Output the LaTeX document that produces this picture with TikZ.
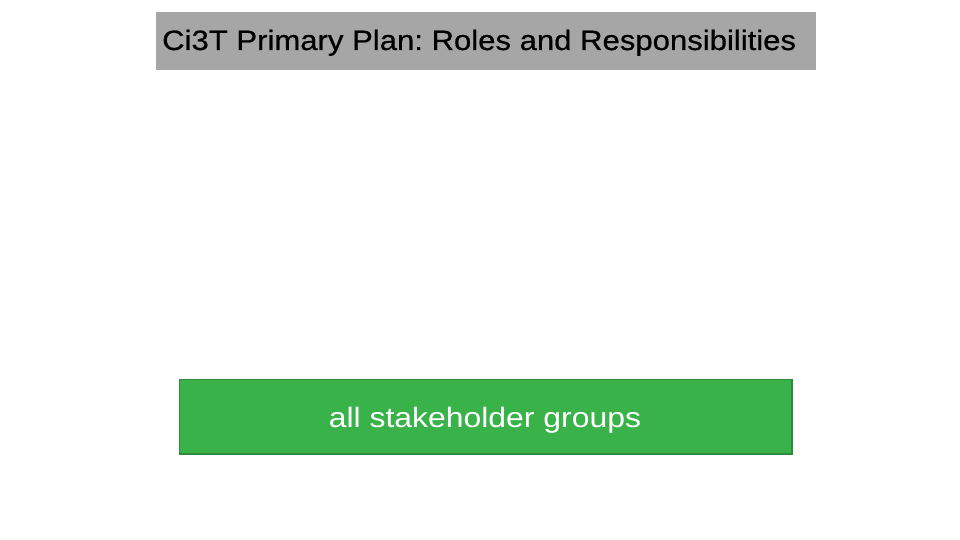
\documentclass[tikz,border=0pt]{standalone}
\usepackage{fontspec}
\setmainfont{Liberation Sans}
\newfontfamily\widesans[FakeStretch=1.14]{Liberation Sans}
\newfontfamily\titlesans[FakeStretch=1.11,FakeBold=0.6]{Liberation Sans}
\definecolor{titlegray}{HTML}{A6A6A6}
\definecolor{boxgreen}{HTML}{39B24A}
\definecolor{boxedge}{HTML}{2F8A3C}
\frenchspacing
\begin{document}
\begin{tikzpicture}[x=1pt,y=-1pt,
  titlebox/.style={fill=titlegray,draw=none},
  greenbox/.style={fill=boxgreen,draw=boxedge,line width=1.5pt}]
\useasboundingbox (0,0) rectangle (960,540);
\fill[white] (0,0) rectangle (960,540);
\path[titlebox] (156,12) rectangle (816,70);
\node[anchor=base west,inner sep=0pt,font=\titlesans\fontsize{28}{34}\selectfont] (title) at (162,50) {Ci3T Primary Plan: Roles and Responsibilities};
\path[greenbox] (179.5,379.5) rectangle (792,454);
\node[anchor=base,inner sep=0pt,text=white,font=\widesans\fontsize{28}{34}\selectfont] (groups) at (485,427) {all stakeholder groups};
\end{tikzpicture}
\end{document}
